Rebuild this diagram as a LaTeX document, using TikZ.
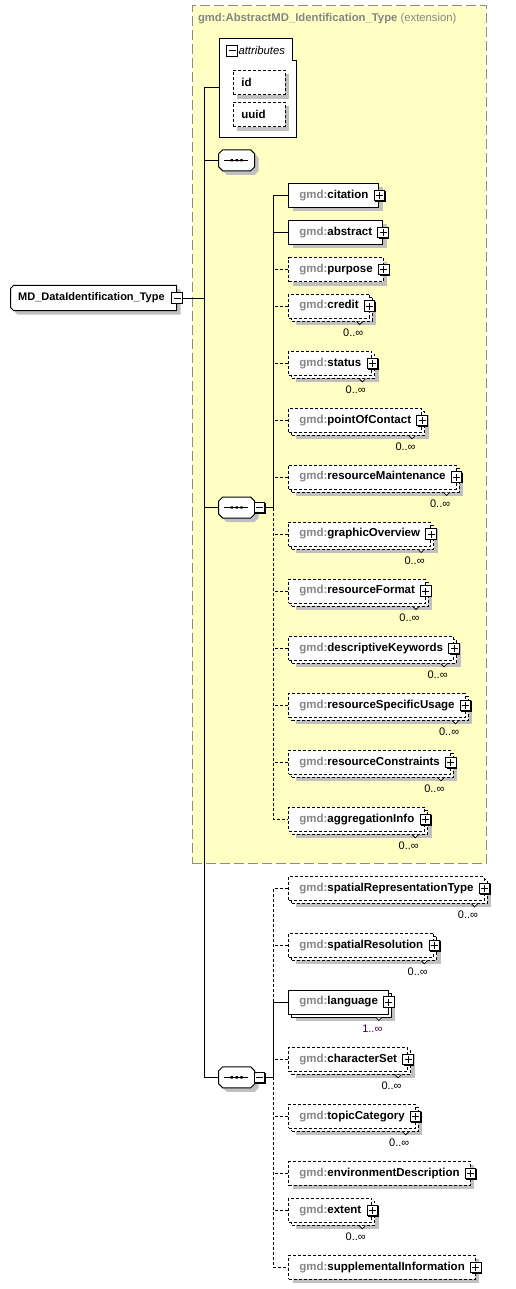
\documentclass[tikz,border=0pt]{standalone}
\usepackage{fontspec}
\setmainfont{Liberation Sans}
\definecolor{extfill}{HTML}{FFFFC4}
\definecolor{extline}{HTML}{8C8C8C}
\definecolor{gmdgray}{HTML}{858585}
\definecolor{shadowgray}{HTML}{C0C0C0}
\definecolor{reqmult}{HTML}{400050}
\newcommand{\gmd}[1]{\textcolor{gmdgray}{gmd:}#1}
\tikzset{
  bigfont/.style={font=\fontsize{11.5}{13}\selectfont\bfseries},
  elem/.style={draw, fill=white, anchor=west, minimum height=24pt, inner xsep=10.5pt, inner ysep=0pt, bigfont},
  opt/.style={dash pattern=on 3pt off 2pt},
  one/.style={preaction={fill=shadowgray, transform canvas={shift={(4pt,-4pt)}}}},
  many/.style={preaction={fill=shadowgray, transform canvas={shift={(7pt,-7pt)}}},
    preaction={draw, fill=white, transform canvas={shift={(3pt,-3pt)}}}},
  optmany/.style={opt, preaction={fill=shadowgray, transform canvas={shift={(7pt,-7pt)}}},
    preaction={draw, opt, fill=white, transform canvas={shift={(3pt,-3pt)}}}},
  plusbox/.style={draw, fill=white, minimum size=10.5pt, inner sep=0pt,
    preaction={fill=black, transform canvas={shift={(1pt,-1pt)}}},
    path picture={\draw[black, line width=1pt] ([xshift=-3.5pt]path picture bounding box.center) -- ([xshift=3.5pt]path picture bounding box.center)
      ([yshift=-3.5pt]path picture bounding box.center) -- ([yshift=3.5pt]path picture bounding box.center);}},
  minusbox/.style={draw, fill=white, minimum size=10.5pt, inner sep=0pt,
    preaction={fill=black, transform canvas={shift={(1pt,-1pt)}}},
    path picture={\draw[black, line width=1pt] ([xshift=-3.5pt]path picture bounding box.center) -- ([xshift=3.5pt]path picture bounding box.center);}},
  mult/.style={anchor=east, inner sep=0pt, font=\fontsize{11}{12}\selectfont},
  notch/.style={fill=white, line width=0.8pt},
  seqbox/.style={minimum width=35pt, minimum height=20pt, inner sep=0pt},
  seqline/.style={draw, fill=white, preaction={fill=shadowgray, transform canvas={shift={(4pt,-4pt)}}}},
  rootbox/.style={anchor=west, minimum width=166pt, minimum height=25.4pt, inner xsep=5pt, inner ysep=0pt,
    text width=152pt, align=left, font=\fontsize{11}{13}\selectfont\bfseries},
  attbox/.style={draw, fill=white, opt, minimum width=51.7pt, minimum height=24.4pt,
    inner xsep=8pt, inner ysep=0pt, text width=35.7pt, align=left, bigfont,
    preaction={fill=shadowgray, transform canvas={shift={(4pt,-4pt)}}}},
}
\begin{document}
\begin{tikzpicture}[x=1pt,y=-1pt,line width=1pt]
\useasboundingbox (0,0) rectangle (515,1289);

% extension area
\node [draw=extline, fill=extfill, dash pattern=on 10pt off 4pt, anchor=north west,
  minimum width=294pt, minimum height=857.5pt] (ext) at (191.5,5.5) {};
\node [anchor=west, inner sep=0pt, text=gmdgray, font=\fontsize{11.3}{13}\selectfont] (ext-t) at (197.5,19)
  {\textbf{gmd:AbstractMD\_Identification\_Type} (extension)};

% attributes
\node [draw, fill=white, minimum width=77.4pt, minimum height=99pt] (attr) at (258,87.8) {};
\fill [extfill] ([shift={(-4.4,-1)}]attr.north east) rectangle ([shift={(1,22.7)}]attr.north east);
\draw ([shift={(-4.4,0)}]attr.north east) |- ([shift={(0,22.7)}]attr.north east);
\node [minusbox] (attr-m) at (232,50.8) {};
\node [anchor=west, inner sep=0pt, font=\fontsize{11.3}{13}\selectfont\itshape] (attr-t) at (238,50.5) {attributes};
\node [attbox] (id) at (259.2,82.5) {id};
\node [attbox] (uuid) at (259.2,114.5) {uuid};

% root
\draw [seqline] (13.7,285.3) -- (176.7,285.3) -- (176.7,310.7) -- (13.7,310.7) -- (10.7,307.7) -- (10.7,288.3) -- cycle;
\node [rootbox] (root) at (10.7,298) {MD\_DataIdentification\_Type};
\node [minusbox] (root-m) at (177,298) {};

% sequences
\node [seqbox] (seq1) at (236.7,160.3) {};
\draw [seqline] ([shift={(4,0)}]seq1.north west) -- ([shift={(-4,0)}]seq1.north east) -- ([shift={(0,4)}]seq1.north east)
  -- ([shift={(0,-4)}]seq1.south east) -- ([shift={(-4,0)}]seq1.south east) -- ([shift={(4,0)}]seq1.south west)
  -- ([shift={(0,-4)}]seq1.south west) -- ([shift={(0,4)}]seq1.north west) -- cycle;
\draw (seq1.center) +(-12.5,0) -- +(11.5,0);
\fill (seq1.center) +(-6,-1.2) rectangle +(-3.6,1.2) +(-1.2,-1.2) rectangle +(1.2,1.2) +(3.6,-1.2) rectangle +(6,1.2);

\node [seqbox] (seq2) at (236.7,507.5) {};
\draw [seqline] ([shift={(4,0)}]seq2.north west) -- ([shift={(-4,0)}]seq2.north east) -- ([shift={(0,4)}]seq2.north east)
  -- ([shift={(0,-4)}]seq2.south east) -- ([shift={(-4,0)}]seq2.south east) -- ([shift={(4,0)}]seq2.south west)
  -- ([shift={(0,-4)}]seq2.south west) -- ([shift={(0,4)}]seq2.north west) -- cycle;
\draw (seq2.center) +(-12.5,0) -- +(11.5,0);
\fill (seq2.center) +(-6,-1.2) rectangle +(-3.6,1.2) +(-1.2,-1.2) rectangle +(1.2,1.2) +(3.6,-1.2) rectangle +(6,1.2);
\node [minusbox] (seq2-m) at (259.3,507.5) {};

\node [seqbox] (seq3) at (236.7,1077.3) {};
\draw [seqline] ([shift={(4,0)}]seq3.north west) -- ([shift={(-4,0)}]seq3.north east) -- ([shift={(0,4)}]seq3.north east)
  -- ([shift={(0,-4)}]seq3.south east) -- ([shift={(-4,0)}]seq3.south east) -- ([shift={(4,0)}]seq3.south west)
  -- ([shift={(0,-4)}]seq3.south west) -- ([shift={(0,4)}]seq3.north west) -- cycle;
\draw (seq3.center) +(-12.5,0) -- +(11.5,0);
\fill (seq3.center) +(-6,-1.2) rectangle +(-3.6,1.2) +(-1.2,-1.2) rectangle +(1.2,1.2) +(3.6,-1.2) rectangle +(6,1.2);
\node [minusbox] (seq3-m) at (259.3,1077.3) {};

% elements of the extension
\node [elem,one] (citation) at (288.3,195.3) {\gmd{citation}};
\node [elem,one] (abstract) at (288.3,232.3) {\gmd{abstract}};
\node [elem,opt,one] (purpose) at (288.3,269.5) {\gmd{purpose}};
\node [elem,optmany] (credit) at (288.3,306) {\gmd{credit}};
\node [elem,optmany] (status) at (288.3,363.3) {\gmd{status}};
\node [elem,optmany] (pointOfContact) at (288.3,420.3) {\gmd{pointOfContact}};
\node [elem,optmany] (resourceMaintenance) at (288.3,477) {\gmd{resourceMaintenance}};
\node [elem,optmany] (graphicOverview) at (288.3,534) {\gmd{graphicOverview}};
\node [elem,optmany] (resourceFormat) at (288.3,591) {\gmd{resourceFormat}};
\node [elem,optmany] (descriptiveKeywords) at (288.3,648.3) {\gmd{descriptiveKeywords}};
\node [elem,optmany] (resourceSpecificUsage) at (288.3,705.3) {\gmd{resourceSpecificUsage}};
\node [elem,optmany] (resourceConstraints) at (288.3,762.3) {\gmd{resourceConstraints}};
\node [elem,optmany] (aggregationInfo) at (288.3,819.3) {\gmd{aggregationInfo}};

% elements of the data identification
\node [elem,optmany] (spatialRepresentationType) at (288.3,888.3) {\gmd{spatialRepresentationType}};
\node [elem,optmany] (spatialResolution) at (288.3,945.3) {\gmd{spatialResolution}};
\node [elem,many] (language) at (288.3,1002) {\gmd{language}};
\node [elem,optmany] (characterSet) at (288.3,1059.3) {\gmd{characterSet}};
\node [elem,optmany] (topicCategory) at (288.3,1116.3) {\gmd{topicCategory}};
\node [elem,opt,one] (environmentDescription) at (288.3,1173.3) {\gmd{environmentDescription}};
\node [elem,optmany] (extent) at (288.3,1210.3) {\gmd{extent}};
\node [elem,opt,one] (supplementalInformation) at (288.3,1267.3) {\gmd{supplementalInformation}};

% plus boxes
\node [plusbox] (citation-p) at (citation.east) {};
\node [plusbox] (abstract-p) at (abstract.east) {};
\node [plusbox] (purpose-p) at (purpose.east) {};
\node [plusbox] (credit-p) at (credit.east) {};
\node [plusbox] (status-p) at (status.east) {};
\node [plusbox] (pointOfContact-p) at (pointOfContact.east) {};
\node [plusbox] (resourceMaintenance-p) at (resourceMaintenance.east) {};
\node [plusbox] (graphicOverview-p) at (graphicOverview.east) {};
\node [plusbox] (resourceFormat-p) at (resourceFormat.east) {};
\node [plusbox] (descriptiveKeywords-p) at (descriptiveKeywords.east) {};
\node [plusbox] (resourceSpecificUsage-p) at (resourceSpecificUsage.east) {};
\node [plusbox] (resourceConstraints-p) at (resourceConstraints.east) {};
\node [plusbox] (aggregationInfo-p) at (aggregationInfo.east) {};
\node [plusbox] (spatialRepresentationType-p) at (spatialRepresentationType.east) {};
\node [plusbox] (spatialResolution-p) at (spatialResolution.east) {};
\node [plusbox] (language-p) at (language.east) {};
\node [plusbox] (characterSet-p) at (characterSet.east) {};
\node [plusbox] (topicCategory-p) at (topicCategory.east) {};
\node [plusbox] (environmentDescription-p) at (environmentDescription.east) {};
\node [plusbox] (extent-p) at (extent.east) {};
\node [plusbox] (supplementalInformation-p) at (supplementalInformation.east) {};

% occurrences
\draw [notch] ([shift={(-13,3)}]credit.south east) -- ++(3,3) -- ++(3,-3);
\node [mult] (credit-n) at ([shift={(-6,14)}]credit.south east) {0..∞};
\draw [notch] ([shift={(-13,3)}]status.south east) -- ++(3,3) -- ++(3,-3);
\node [mult] (status-n) at ([shift={(-6,14)}]status.south east) {0..∞};
\draw [notch] ([shift={(-13,3)}]pointOfContact.south east) -- ++(3,3) -- ++(3,-3);
\node [mult] (pointOfContact-n) at ([shift={(-6,14)}]pointOfContact.south east) {0..∞};
\draw [notch] ([shift={(-13,3)}]resourceMaintenance.south east) -- ++(3,3) -- ++(3,-3);
\node [mult] (resourceMaintenance-n) at ([shift={(-6,14)}]resourceMaintenance.south east) {0..∞};
\draw [notch] ([shift={(-13,3)}]graphicOverview.south east) -- ++(3,3) -- ++(3,-3);
\node [mult] (graphicOverview-n) at ([shift={(-6,14)}]graphicOverview.south east) {0..∞};
\draw [notch] ([shift={(-13,3)}]resourceFormat.south east) -- ++(3,3) -- ++(3,-3);
\node [mult] (resourceFormat-n) at ([shift={(-6,14)}]resourceFormat.south east) {0..∞};
\draw [notch] ([shift={(-13,3)}]descriptiveKeywords.south east) -- ++(3,3) -- ++(3,-3);
\node [mult] (descriptiveKeywords-n) at ([shift={(-6,14)}]descriptiveKeywords.south east) {0..∞};
\draw [notch] ([shift={(-13,3)}]resourceSpecificUsage.south east) -- ++(3,3) -- ++(3,-3);
\node [mult] (resourceSpecificUsage-n) at ([shift={(-6,14)}]resourceSpecificUsage.south east) {0..∞};
\draw [notch] ([shift={(-13,3)}]resourceConstraints.south east) -- ++(3,3) -- ++(3,-3);
\node [mult] (resourceConstraints-n) at ([shift={(-6,14)}]resourceConstraints.south east) {0..∞};
\draw [notch] ([shift={(-13,3)}]aggregationInfo.south east) -- ++(3,3) -- ++(3,-3);
\node [mult] (aggregationInfo-n) at ([shift={(-6,14)}]aggregationInfo.south east) {0..∞};
\draw [notch] ([shift={(-13,3)}]spatialRepresentationType.south east) -- ++(3,3) -- ++(3,-3);
\node [mult] (spatialRepresentationType-n) at ([shift={(-6,14)}]spatialRepresentationType.south east) {0..∞};
\draw [notch] ([shift={(-13,3)}]spatialResolution.south east) -- ++(3,3) -- ++(3,-3);
\node [mult] (spatialResolution-n) at ([shift={(-6,14)}]spatialResolution.south east) {0..∞};
\draw [notch] ([shift={(-13,3)}]language.south east) -- ++(3,3) -- ++(3,-3);
\node [mult, text=reqmult] (language-n) at ([shift={(-6,14)}]language.south east) {1..∞};
\draw [notch] ([shift={(-13,3)}]characterSet.south east) -- ++(3,3) -- ++(3,-3);
\node [mult] (characterSet-n) at ([shift={(-6,14)}]characterSet.south east) {0..∞};
\draw [notch] ([shift={(-13,3)}]topicCategory.south east) -- ++(3,3) -- ++(3,-3);
\node [mult] (topicCategory-n) at ([shift={(-6,14)}]topicCategory.south east) {0..∞};
\draw [notch] ([shift={(-13,3)}]extent.south east) -- ++(3,3) -- ++(3,-3);
\node [mult] (extent-n) at ([shift={(-6,14)}]extent.south east) {0..∞};

% main trunk
\coordinate (tr) at (204.3,298);
\draw (root-m.east) -- (tr);
\draw (attr.west) -| (tr) |- (seq3.west);
\draw (seq1.west) -- (seq1.west -| tr);
\draw (seq2.west) -- (seq2.west -| tr);

% first sequence
\coordinate (in2) at (273.3,507.5);
\draw (seq2-m.east) -- (in2) |- (citation.west);
\draw (abstract.west) -- (abstract.west -| in2);
\draw [opt] (in2) |- (aggregationInfo.west);
\draw [opt] (purpose.west) -- (purpose.west -| in2);
\draw [opt] (credit.west) -- (credit.west -| in2);
\draw [opt] (status.west) -- (status.west -| in2);
\draw [opt] (pointOfContact.west) -- (pointOfContact.west -| in2);
\draw [opt] (resourceMaintenance.west) -- (resourceMaintenance.west -| in2);
\draw [opt] (graphicOverview.west) -- (graphicOverview.west -| in2);
\draw [opt] (resourceFormat.west) -- (resourceFormat.west -| in2);
\draw [opt] (descriptiveKeywords.west) -- (descriptiveKeywords.west -| in2);
\draw [opt] (resourceSpecificUsage.west) -- (resourceSpecificUsage.west -| in2);
\draw [opt] (resourceConstraints.west) -- (resourceConstraints.west -| in2);

% second sequence
\coordinate (in3) at (273.3,1077.3);
\draw (seq3-m.east) -- (in3) |- (language.west);
\draw [opt] (language.west -| in3) |- (spatialRepresentationType.west);
\draw [opt] (in3) |- (supplementalInformation.west);
\draw [opt] (spatialResolution.west) -- (spatialResolution.west -| in3);
\draw [opt] (characterSet.west) -- (characterSet.west -| in3);
\draw [opt] (topicCategory.west) -- (topicCategory.west -| in3);
\draw [opt] (environmentDescription.west) -- (environmentDescription.west -| in3);
\draw [opt] (extent.west) -- (extent.west -| in3);
\end{tikzpicture}
\end{document}
